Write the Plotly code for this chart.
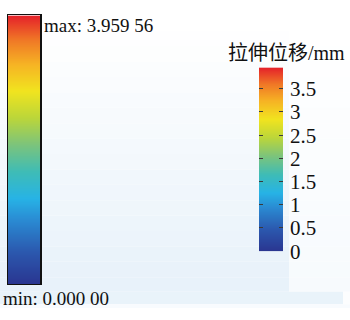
import plotly.graph_objects as go

# Tensile displacement range (mm)
disp_min = 0.0
disp_max = 3.95956
tick_vals = [0, 0.5, 1, 1.5, 2, 2.5, 3, 3.5]
tick_text = ["0", "0.5", "1", "1.5", "2", "2.5", "3", "3.5"]
title_text = "拉伸位移/mm"
max_label = "max: 3.959 56"
min_label = "min: 0.000 00"

# Rainbow contour colour scale
rainbow = [
    [0.00, "#2a3590"],
    [0.12, "#2b58ae"],
    [0.24, "#2a8bd3"],
    [0.32, "#27b3e6"],
    [0.42, "#3fbcb6"],
    [0.52, "#7cc47c"],
    [0.62, "#bcd63a"],
    [0.72, "#f1e41f"],
    [0.82, "#f6b324"],
    [0.91, "#f07826"],
    [1.00, "#e5222a"],
]

W, H = 350, 320
SERIF = "Liberation Serif, Times New Roman, serif"
CJK = "Liberation Serif, Noto Sans CJK SC, serif"


def fx(x):
    return x / W


def fy(y):
    return 1 - y / H


def mix(t):
    lo, hi = (255, 255, 255), (232, 242, 250)
    t = min(1.0, max(0.0, t))
    return "rgb(%d,%d,%d)" % tuple(round(a + (b - a) * t) for a, b in zip(lo, hi))


# Soft page background: white at the top fading to pale blue,
# a lighter panel on the right and a pale strip along the bottom
bg = []
for top in range(0, 303, 16):
    bot = min(top + 16, 303)
    t = (top + 8 - 30) / 260
    bg.append(dict(type="rect", xref="paper", yref="paper", layer="below",
                   x0=0, x1=fx(289), y0=fy(bot), y1=fy(top),
                   fillcolor=mix(t), line=dict(width=0)))
    bg.append(dict(type="rect", xref="paper", yref="paper", layer="below",
                   x0=fx(289), x1=1, y0=fy(bot), y1=fy(top),
                   fillcolor=mix(t * 0.35), line=dict(width=0)))
bg.append(dict(type="rect", xref="paper", yref="paper", layer="below",
               x0=0, x1=fx(343), y0=fy(316), y1=fy(303),
               fillcolor=mix(0.95), line=dict(width=0)))
bg.append(dict(type="rect", xref="paper", yref="paper", layer="below",
               x0=fx(343), x1=1, y0=fy(316), y1=fy(303),
               fillcolor=mix(0.15), line=dict(width=0)))
bg.append(dict(type="rect", xref="paper", yref="paper", layer="below",
               x0=0, x1=1, y0=0, y1=fy(316),
               fillcolor=mix(0.3), line=dict(width=0)))

fig = go.Figure()

# Left contour legend bar
fig.add_trace(go.Heatmap(
    z=[[disp_min, disp_min], [disp_max, disp_max]], x=[0, 1], y=[disp_min, disp_max],
    zmin=disp_min, zmax=disp_max, colorscale=rainbow, zsmooth="best",
    showscale=False, hoverinfo="skip", xaxis="x", yaxis="y",
))

# Right colour bar with ticks
fig.add_trace(go.Heatmap(
    z=[[disp_min, disp_min], [disp_max, disp_max]], x=[0, 1], y=[disp_min, disp_max],
    zmin=disp_min, zmax=disp_max, colorscale=rainbow, zsmooth="best",
    showscale=False, hoverinfo="skip", xaxis="x2", yaxis="y2",
))

fig.update_layout(
    width=W, height=H, autosize=False,
    margin=dict(l=0, r=0, t=0, b=0, pad=0),
    paper_bgcolor="#ffffff",
    plot_bgcolor="rgba(0,0,0,0)",
    showlegend=False,
    dragmode=False,
    shapes=bg,
    xaxis=dict(domain=[fx(8), fx(40)], range=[0, 1], anchor="y", fixedrange=True,
               showline=True, mirror=True, linecolor="#111111", linewidth=1.5,
               showticklabels=False, ticks="", showgrid=False, zeroline=False),
    yaxis=dict(domain=[fy(295), fy(16)], range=[disp_min, disp_max], anchor="x",
               fixedrange=True,
               showline=True, mirror=True, linecolor="#111111", linewidth=1.5,
               showticklabels=False, ticks="", showgrid=False, zeroline=False),
    xaxis2=dict(domain=[fx(259), fx(283)], range=[0, 1], anchor="y2",
                fixedrange=True, visible=False),
    yaxis2=dict(domain=[fy(261), fy(70)], range=[disp_min, disp_max], anchor="x2",
                fixedrange=True,
                side="right", tickvals=tick_vals, ticktext=tick_text,
                ticks="inside", ticklen=4, tickwidth=1, tickcolor="#3a3a3a",
                mirror="ticks", showline=False, showgrid=False, zeroline=False,
                ticklabelstandoff=6,
                tickfont=dict(family=SERIF, size=21, color="#111111")),
    annotations=[
        dict(text=max_label, x=fx(42), y=fy(27), xref="paper", yref="paper",
             xanchor="left", yanchor="middle", showarrow=False,
             font=dict(family=SERIF, size=19, color="#111111")),
        dict(text=min_label, x=fx(1), y=fy(310), xref="paper", yref="paper",
             xanchor="left", yanchor="middle", showarrow=False,
             font=dict(family=SERIF, size=19, color="#111111")),
        dict(text=title_text, x=fx(286), y=fy(55), xref="paper", yref="paper",
             xanchor="center", yanchor="middle", showarrow=False,
             font=dict(family=CJK, size=20, color="#111111")),
    ],
)

# Let the figure fill the page exactly, with no body margin or scrollbars
page_fit = (
    "document.body.style.margin='0';"
    "document.body.style.padding='0';"
    "document.documentElement.style.overflow='hidden';"
    "document.body.style.overflow='hidden';"
)

fig.write_html("out.html", config={"staticPlot": True, "responsive": False},
               post_script=page_fit)
